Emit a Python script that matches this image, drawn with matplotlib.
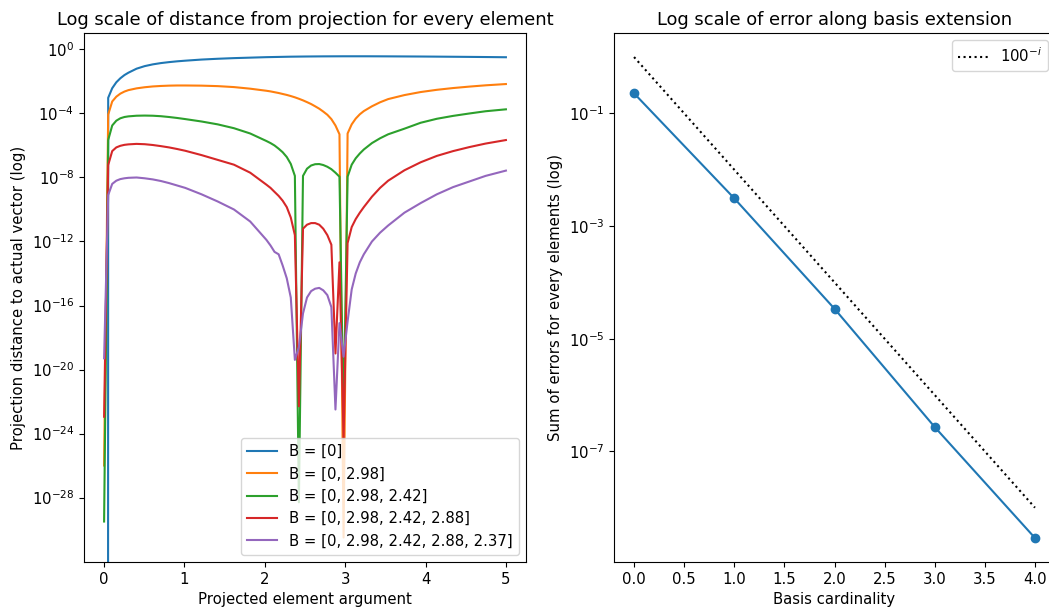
import numpy as np
import matplotlib
matplotlib.use("Agg")
import matplotlib.pyplot as plt
from matplotlib.ticker import NullLocator

plt.rcParams["font.size"] = 10.7

# ---- left panel data: sample positions (projected element argument) ----
x_arg = [0.000, 0.051, 0.101, 0.152, 0.202, 0.253, 0.303, 0.404, 0.505, 0.606,
         0.707, 0.808, 0.909, 1.010, 1.212, 1.414, 1.616, 1.818, 2.020, 2.071,
         2.121, 2.172, 2.222, 2.273, 2.323, 2.374, 2.424, 2.475, 2.525, 2.576,
         2.626, 2.677, 2.727, 2.778, 2.828, 2.879, 2.929, 2.980, 3.030, 3.081,
         3.131, 3.182, 3.232, 3.333, 3.434, 3.535, 3.737, 3.939, 4.141, 4.343,
         4.545, 4.747, 5.000]

# log10 of projection distance (-inf means exactly 0)
log_b1 = [-np.inf, -3.02, -2.42, -2.05, -1.80, -1.60, -1.45, -1.20, -1.04, -0.93,
          -0.85, -0.79, -0.74, -0.70, -0.63, -0.58, -0.54, -0.51, -0.48, -0.475,
          -0.47, -0.465, -0.46, -0.455, -0.45, -0.447, -0.444, -0.441, -0.438, -0.436,
          -0.434, -0.432, -0.43, -0.429, -0.428, -0.427, -0.426, -0.425, -0.425, -0.425,
          -0.425, -0.425, -0.425, -0.426, -0.428, -0.43, -0.435, -0.44, -0.447, -0.455,
          -0.463, -0.472, -0.485]
log_b2 = [-26.0, -4.07, -3.25, -2.95, -2.76, -2.63, -2.54, -2.43, -2.36, -2.31,
          -2.28, -2.26, -2.25, -2.25, -2.26, -2.29, -2.35, -2.45, -2.58, -2.62,
          -2.67, -2.72, -2.78, -2.84, -2.91, -2.99, -3.08, -3.18, -3.29, -3.41,
          -3.55, -3.70, -3.88, -4.08, -4.35, -4.75, -5.30, -30.5, -5.25, -4.68,
          -4.32, -4.05, -3.85, -3.55, -3.30, -3.10, -2.85, -2.66, -2.52, -2.41,
          -2.32, -2.24, -2.16]
log_b3 = [-29.5, -5.66, -4.75, -4.45, -4.30, -4.22, -4.18, -4.14, -4.13, -4.14,
          -4.17, -4.22, -4.28, -4.35, -4.50, -4.68, -4.92, -5.25, -5.72, -5.85,
          -6.00, -6.20, -6.42, -6.72, -7.15, -7.90, -28.3, -7.90, -7.45, -7.25,
          -7.17, -7.16, -7.22, -7.33, -7.48, -7.70, -7.95, -23.0, -7.95, -7.20,
          -6.80, -6.50, -6.25, -5.85, -5.55, -5.30, -4.95, -4.58, -4.33, -4.15,
          -4.00, -3.86, -3.74]
log_b4 = [-22.95, -7.22, -6.35, -6.12, -6.02, -5.96, -5.93, -5.90, -5.92, -5.97,
          -6.04, -6.12, -6.22, -6.33, -6.60, -6.90, -7.20, -7.70, -8.45, -8.65,
          -8.90, -9.15, -9.45, -9.85, -10.5, -11.6, -22.3, -11.2, -10.95, -10.85,
          -10.85, -10.95, -11.2, -11.6, -12.2, -19.0, -13.3, -24.3, -12.1, -11.1,
          -10.6, -10.2, -9.85, -9.20, -8.65, -8.20, -7.55, -7.05, -6.65, -6.35,
          -6.10, -5.88, -5.66]
log_b5 = [-19.3, -9.10, -8.40, -8.20, -8.10, -8.05, -8.02, -8.00, -8.05, -8.12,
          -8.22, -8.35, -8.50, -8.65, -9.05, -9.50, -10.0, -10.75, -11.9, -12.25,
          -12.65, -12.8, -13.5, -14.3, -15.5, -19.4, -18.6, -16.5, -15.5, -15.1,
          -14.95, -14.9, -15.05, -15.35, -16.1, -22.5, -17.1, -19.2, -17.0, -15.0,
          -14.0, -13.3, -12.8, -12.0, -11.45, -11.0, -10.2, -9.6, -9.05, -8.6,
          -8.25, -7.9, -7.57]

basis_labels = ["B = [0]", "B = [0, 2.98]", "B = [0, 2.98, 2.42]",
                "B = [0, 2.98, 2.42, 2.88]", "B = [0, 2.98, 2.42, 2.88, 2.37]"]

# ---- right panel data ----
cardinality = [0, 1, 2, 3, 4]
sum_errors = [0.227, 3.1e-3, 3.4e-5, 2.7e-7, 2.9e-9]
reference_rate = [1.0, 1e-2, 1e-4, 1e-6, 1e-8]   # 100^-i

fig = plt.figure(figsize=(10.49, 6.07), dpi=100)
ax_bottom = 1 - 562 / 607
ax_height = 529 / 607
ax1 = fig.add_axes([84 / 1049, ax_bottom, 442 / 1049, ax_height])
ax2 = fig.add_axes([614 / 1049, ax_bottom, 441 / 1049, ax_height])

for logs, lab in zip([log_b1, log_b2, log_b3, log_b4, log_b5], basis_labels):
    ax1.plot(x_arg, 10.0 ** np.array(logs), label=lab)
ax1.set_yscale("log")
ax1.set_xlim(-0.25, 5.25)
ax1.set_ylim(10 ** -32.03, 10 ** 1.03)
ax1.set_yticks([10.0 ** (-e) for e in range(0, 29, 4)])
ax1.yaxis.set_minor_locator(NullLocator())
ax1.set_title("Log scale of distance from projection for every element")
ax1.set_xlabel("Projected element argument")
ax1.set_ylabel("Projection distance to actual vector (log)")
ax1.legend(loc="lower right")

ax2.plot(cardinality, sum_errors, marker="o")
ax2.plot(cardinality, reference_rate, ":", color="black", label=r"$100^{-i}$")
ax2.set_yscale("log")
ax2.set_yticks([1e-1, 1e-3, 1e-5, 1e-7])
ax2.yaxis.set_minor_locator(NullLocator())
ax2.set_title("Log scale of error along basis extension")
ax2.set_xlabel("Basis cardinality")
ax2.set_ylabel("Sum of errors for every elements (log)")
ax2.legend(loc="upper right")

fig.savefig("out.png", dpi=100)
